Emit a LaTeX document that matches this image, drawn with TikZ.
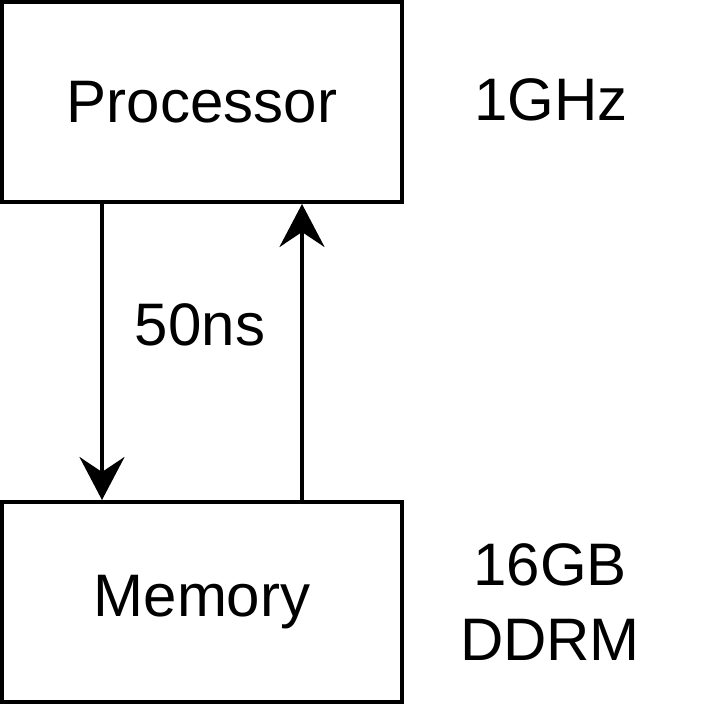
\documentclass[tikz,border=0pt]{standalone}
\usepackage{fontspec}
\setmainfont{Liberation Sans}
\usepackage{tikz}
\usetikzlibrary{arrows.meta}

\begin{document}
\begin{tikzpicture}[x=0.5pt,y=-0.5pt,>={Stealth[length=21.5pt,width=22.5pt,inset=7.5pt]},
  line width=2pt,
  box node/.style={rectangle,draw,minimum width=200pt,minimum height=100pt,inner sep=0pt,
    font=\fontsize{30}{37.5}\selectfont},
  text node/.style={align=center,inner sep=0pt,font=\fontsize{30}{37.5}\selectfont}]
  \useasboundingbox (0,0) rectangle (705,705);
  \node[box node] (proc) at (202,102) {Processor};
  \node[box node] (mem) at (202,602) {Memory};
  \node[text node] (freq) at (551,100) {1GHz};
  \node[text node] (lat) at (200,325) {50ns};
  \node[text node] (size) at (550,602) {16GB\\DDRM};

  \draw[->] ([xshift=-50pt]proc.south) -- ([xshift=-50pt]mem.north);
  \draw[->] ([xshift=50pt]mem.north) -- ([xshift=50pt]proc.south);
\end{tikzpicture}
\end{document}
